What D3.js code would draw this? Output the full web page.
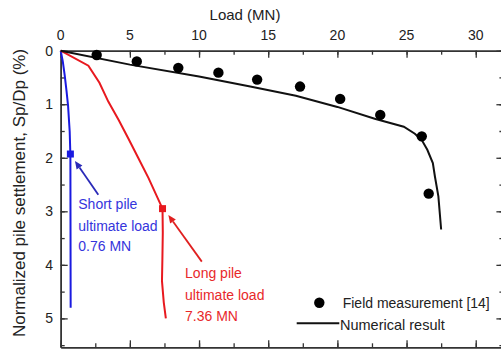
<!DOCTYPE html>
<html><head><meta charset="utf-8">
<script src="https://cdn.jsdelivr.net/npm/d3@7"></script>
<style>
html,body{margin:0;padding:0;background:#fff;}
svg{display:block;font-family:"Liberation Sans",Arial,sans-serif;}
</style></head>
<body><svg id="c" width="501" height="351"></svg>
<script>
// ---- data ----
const xTicks = [0, 5, 10, 15, 20, 25, 30];
const yTicks = [0, 1, 2, 3, 4, 5];
const fieldLoad   = [2.6, 5.5, 8.5, 11.4, 14.2, 17.3, 20.2, 23.1, 26.1, 26.6];
const fieldSettle = [0.08, 0.20, 0.32, 0.41, 0.54, 0.67, 0.90, 1.20, 1.60, 2.67];
const numLoad   = [0, 5, 10, 13.7, 17, 20, 22.7, 24.8, 25.6, 26.1, 26.5, 26.9, 27.05, 27.3, 27.5];
const numSettle = [0, 0.26, 0.48, 0.67, 0.84, 1.05, 1.27, 1.42, 1.55, 1.67, 1.85, 2.1, 2.35, 2.72, 3.34];
const longLoad   = [0, 2.0, 2.8, 3.44, 4.2, 4.89, 5.6, 6.35, 7.36, 7.38, 7.35, 7.32, 7.45, 7.6];
const longSettle = [0, 0.28, 0.6, 0.95, 1.3, 1.64, 2.0, 2.38, 2.95, 3.4, 3.9, 4.3, 4.7, 5.0];
const shortLoad   = [0, 0.15, 0.29, 0.42, 0.53, 0.65, 0.7, 0.72];
const shortSettle = [0, 0.2, 0.46, 0.75, 1.02, 1.51, 1.95, 4.8];
const shortUlt = [0.7, 1.93];
const longUlt  = [7.36, 2.95];
const shortLabel = ["Short pile", "ultimate load", "0.76 MN"];
const longLabel  = ["Long pile", "ultimate load", "7.36 MN"];
const legendLabels = ["Field measurement [14]", "Numerical result"];

// ---- scales ----
const svg = d3.select("#c");
const x = d3.scaleLinear().domain([0, 32]).range([60.7, 503.4]);
const y = d3.scaleLinear().domain([0, 5.54]).range([50.7, 347.3]);
const L = x.range()[0], R = x.range()[1], T = y.range()[0], B = y.range()[1];

const blue = "#1a1ae0", red = "#e8191f";

// ---- axes ----
const xMinor = d3.range(0, 32.01, 2.5);
const yMinor = d3.range(0, 5.51, 0.5);
const axCol = "#333";
function minorAxis(axisFn, scale, vals) {
  return axisFn(scale).tickValues(vals).tickSizeInner(-4).tickSizeOuter(0).tickFormat("");
}
function styleAx(g){ g.selectAll("path").attr("stroke", axCol).attr("stroke-width", 1.5);
  g.selectAll("line").attr("stroke", axCol).attr("stroke-width", 1.3); }

svg.append("g").attr("transform", `translate(0,${T})`).call(minorAxis(d3.axisTop, x, xMinor)).call(styleAx);
svg.append("g").attr("transform", `translate(0,${B})`).call(minorAxis(d3.axisBottom, x, xMinor)).call(styleAx);
svg.append("g").attr("transform", `translate(${L},0)`).call(minorAxis(d3.axisLeft, y, yMinor)).call(styleAx);
svg.append("g").attr("transform", `translate(${R},0)`).call(minorAxis(d3.axisRight, y, yMinor)).call(styleAx);
svg.append("g").attr("transform", `translate(0,${T})`).call(d3.axisTop(x).tickValues(xTicks).tickSizeInner(-7).tickSizeOuter(0).tickFormat("")).call(styleAx);
svg.append("g").attr("transform", `translate(0,${B})`).call(d3.axisBottom(x).tickValues(xTicks).tickSizeInner(-7).tickSizeOuter(0).tickFormat("")).call(styleAx);
svg.append("g").attr("transform", `translate(${L},0)`).call(d3.axisLeft(y).tickValues(yTicks).tickSizeInner(-7).tickSizeOuter(0).tickFormat("")).call(styleAx);
svg.append("g").attr("transform", `translate(${R},0)`).call(d3.axisRight(y).tickValues(yTicks).tickSizeInner(-7).tickSizeOuter(0).tickFormat("")).call(styleAx);

svg.append("g").selectAll("text").data(xTicks).join("text")
  .attr("x", d => x(d)).attr("y", 40).attr("text-anchor", "middle")
  .attr("font-size", 14).attr("fill", "#222").text(d => d);
svg.append("g").selectAll("text").data(yTicks).join("text")
  .attr("x", 53).attr("y", d => y(d) + 5).attr("text-anchor", "end")
  .attr("font-size", 14).attr("fill", "#222").text(d => d);

svg.append("text").attr("x", 245).attr("y", 20).attr("text-anchor", "middle")
  .attr("font-size", 15).attr("fill", "#222").text("Load (MN)");
svg.append("text").attr("transform", `translate(25,193) rotate(-90)`).attr("text-anchor", "middle")
  .attr("font-size", 17).attr("fill", "#222").text("Normalized pile settlement, Sp/Dp (%)");

const line = d3.line().x(d => x(d[0])).y(d => y(d[1]));
const zip = (a, b) => a.map((v, i) => [v, b[i]]);
svg.append("path").datum(zip(shortLoad, shortSettle)).attr("d", line)
  .attr("fill", "none").attr("stroke", blue).attr("stroke-width", 2);
svg.append("path").datum(zip(longLoad, longSettle)).attr("d", line)
  .attr("fill", "none").attr("stroke", red).attr("stroke-width", 2);
svg.append("path").datum(zip(numLoad, numSettle)).attr("d", line)
  .attr("fill", "none").attr("stroke", "#111").attr("stroke-width", 2);
svg.append("g").selectAll("circle").data(zip(fieldLoad, fieldSettle)).join("circle")
  .attr("cx", d => x(d[0])).attr("cy", d => y(d[1])).attr("r", 5.2).attr("fill", "#000");

[[shortUlt, blue], [longUlt, red]].forEach(([p, c]) => {
  svg.append("rect").attr("x", x(p[0]) - 3.5).attr("y", y(p[1]) - 3.5)
    .attr("width", 7).attr("height", 7).attr("fill", c);
});

const arrows = [
  {from: [2.72, 2.69], to: [1.03, 2.06], color: "#2a2ab8"},
  {from: [10.2, 3.94], to: [7.78, 3.07], color: "#e02020"}
];
arrows.forEach(a => {
  const x1 = x(a.from[0]), y1 = y(a.from[1]), x2 = x(a.to[0]), y2 = y(a.to[1]);
  const ang = Math.atan2(y2 - y1, x2 - x1);
  const hl = 8, hw = 3.5;
  const bx = x2 - hl * Math.cos(ang), by = y2 - hl * Math.sin(ang);
  svg.append("line").attr("x1", x1).attr("y1", y1).attr("x2", bx).attr("y2", by)
    .attr("stroke", a.color).attr("stroke-width", 1.8);
  const px = -Math.sin(ang) * hw, py = Math.cos(ang) * hw;
  svg.append("path").attr("d", `M${x2},${y2}L${bx + px},${by + py}L${bx - px},${by - py}Z`).attr("fill", a.color);
});

const shortY = [2.955, 3.37, 3.75], longY = [4.25, 4.65, 5.05];
svg.append("g").selectAll("text").data(shortLabel).join("text")
  .attr("x", x(1.27)).attr("y", (d, i) => y(shortY[i])).attr("font-size", 14)
  .attr("fill", "#3535dc").text(d => d);
svg.append("g").selectAll("text").data(longLabel).join("text")
  .attr("x", x(8.99)).attr("y", (d, i) => y(longY[i])).attr("font-size", 14)
  .attr("fill", "#e8282a").text(d => d);

svg.append("circle").attr("cx", 319.3).attr("cy", 302.7).attr("r", 5.2).attr("fill", "#000");
svg.append("text").attr("x", 342.7).attr("y", 308.3).attr("font-size", 14).attr("fill", "#222").text(legendLabels[0]);
svg.append("line").attr("x1", 296.7).attr("x2", 339.3).attr("y1", 323.3).attr("y2", 323.3)
  .attr("stroke", "#111").attr("stroke-width", 2);
svg.append("text").attr("x", 340).attr("y", 329.5).attr("font-size", 14.5).attr("fill", "#222").text(legendLabels[1]);
</script></body></html>
